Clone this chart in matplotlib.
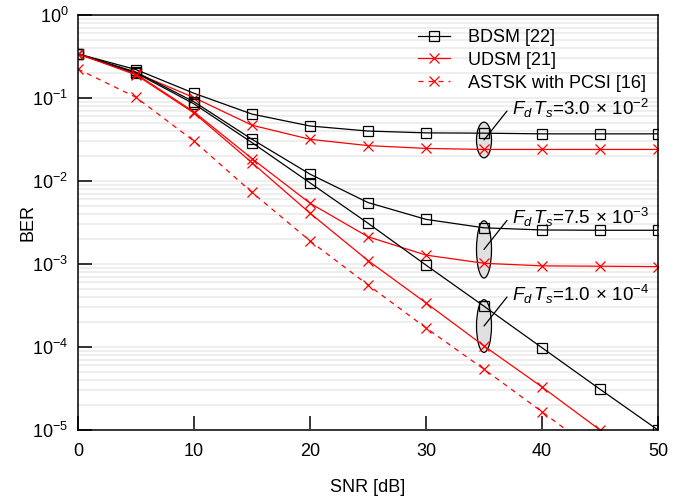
import matplotlib
matplotlib.use("Agg")
import matplotlib.pyplot as plt
from matplotlib.patches import Ellipse
import numpy as np

plt.rcParams['font.family'] = ['Liberation Sans', 'DejaVu Sans']
plt.rcParams['mathtext.fontset'] = 'custom'
plt.rcParams['mathtext.rm'] = 'Liberation Sans'
plt.rcParams['mathtext.it'] = 'Liberation Sans:italic'

snr = [0, 5, 10, 15, 20, 25, 30, 35, 40, 45, 50]

bdsm_30e2 = [0.34, 0.22, 0.114, 0.064, 0.046, 0.040, 0.038, 0.0377, 0.037, 0.037, 0.037]
udsm_30e2 = [0.34, 0.20, 0.101, 0.047, 0.0318, 0.0267, 0.0247, 0.024, 0.024, 0.024, 0.024]
bdsm_75e3 = [0.34, 0.205, 0.09, 0.0318, 0.0121, 0.0055, 0.00345, 0.00273, 0.00257, 0.00255, 0.00255]
udsm_75e3 = [0.34, 0.195, 0.068, 0.0186, 0.0054, 0.00213, 0.00128, 0.00102, 0.00095, 0.00094, 0.00093]
bdsm_10e4 = [0.34, 0.2, 0.085, 0.029, 0.0095, 0.0031, 0.00097, 0.00031, 9.8e-5, 3.1e-5, 1.0e-5]
udsm_10e4 = [0.34, 0.19, 0.066, 0.0166, 0.0041, 0.0011, 0.00034, 0.000103, 3.3e-5, 1.0e-5]
astsk = [0.223, 0.102, 0.0303, 0.0073, 0.0019, 0.00056, 0.00017, 5.4e-5, 1.66e-5, 5.0e-6]

ell_centers = [0.0312, 0.0015, 0.000179]
ell_heights_dec = [0.43, 0.69, 0.635]
ell_labels = [r'$F_d\,T_s$=3.0$\,\times\,$10$^{-2}$',
              r'$F_d\,T_s$=7.5$\,\times\,$10$^{-3}$',
              r'$F_d\,T_s$=1.0$\,\times\,$10$^{-4}$']

fig = plt.figure(figsize=(6.82, 4.97), dpi=100)
ax = fig.add_axes([0.1144, 0.1348, 0.8504, 0.835])

kw_b = dict(color='black', marker='s', mfc='none', mec='black', ms=6.5, lw=0.9, mew=0.9)
kw_r = dict(color='red', marker='x', ms=7, lw=0.9, mew=0.9)

ax.semilogy(snr, bdsm_30e2, label='BDSM [22]', **kw_b)
ax.semilogy(snr, udsm_30e2, label='UDSM [21]', **kw_r)
ax.semilogy(snr[:len(astsk)], astsk, ls=(0, (4, 4)), label='ASTSK with PCSI [16]', **kw_r)
ax.semilogy(snr, bdsm_75e3, **kw_b)
ax.semilogy(snr, udsm_75e3, **kw_r)
ax.semilogy(snr, bdsm_10e4, **kw_b)
ax.semilogy(snr[:len(udsm_10e4)], udsm_10e4, **kw_r)

ax.set_xlim(0, 50)
ax.set_ylim(1e-5, 1)

ax.set_yticks([1e-5, 1e-4, 1e-3, 1e-2, 1e-1, 1])
ax.yaxis.set_minor_locator(matplotlib.ticker.LogLocator(base=10, subs=np.arange(2, 10)))
ax.grid(True, which='both', axis='y', color='#eeeeee', lw=1.5)
ax.set_axisbelow(True)
ax.tick_params(axis='y', which='minor', length=0)
ax.tick_params(axis='both', which='major', direction='in', length=10, width=1.1, labelsize=13)
ax.tick_params(axis='x', pad=9)
ax.tick_params(axis='y', pad=7)
ax.set_xticks([0, 10, 20, 30, 40, 50])
for s in ax.spines.values():
    s.set_linewidth(1.1)

ax.set_xlabel('SNR [dB]', fontsize=13, labelpad=14)
ax.set_ylabel('BER', fontsize=13)
ax.yaxis.set_label_coords(-0.071, 0.5)

fig.canvas.draw()
px_per_dec = (ax.transAxes.transform((0, 1))[1] - ax.transAxes.transform((0, 0))[1]) / 5.0

for yc, hdec, lab in zip(ell_centers, ell_heights_dec, ell_labels):
    c = ax.transData.transform((35, yc))
    e = Ellipse(c, 15, hdec * px_per_dec, transform=None, facecolor='#e0e0e0',
                edgecolor='black', lw=0.9, zorder=1.5)
    ax.add_artist(e)
    ax.annotate('', xy=(35, yc), xytext=(23, 29), textcoords='offset pixels',
                arrowprops=dict(arrowstyle='-', color='black', lw=0.9, shrinkA=0, shrinkB=0))
    ax.annotate(lab, xy=(35, yc), xytext=(28, 25), textcoords='offset pixels',
                fontsize=13.5, ha='left', va='baseline')

leg = ax.legend(loc='upper left', bbox_to_anchor=(418 / 682, 1 - 29 / 497),
                bbox_transform=fig.transFigure, frameon=False, fontsize=13,
                handlelength=1.78, handletextpad=1.0, labelspacing=0.32, borderpad=0,
                borderaxespad=0)

fig.savefig('out.png', dpi=100)
